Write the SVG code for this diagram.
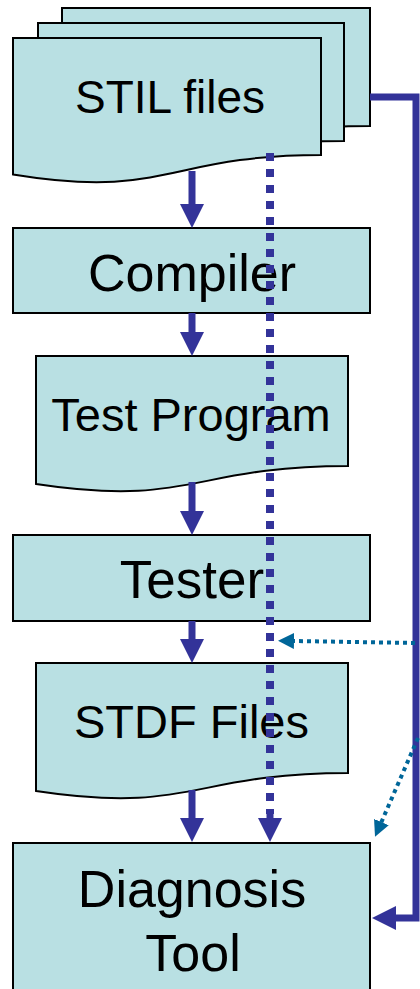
<svg xmlns="http://www.w3.org/2000/svg" width="420" height="989" viewBox="0 0 420 989">
  <style>
    .node { fill: #B9E0E3; stroke: #000000; stroke-width: 2; }
    .lbl { font-family: "Liberation Sans", Arial, sans-serif; fill: #000000; text-anchor: middle; }
    .flow { fill: none; stroke: #333399; stroke-width: 7; }
    .dots { fill: none; stroke: #333399; stroke-width: 8; stroke-dasharray: 8 8; }
    .teal { fill: none; stroke: #006699; stroke-width: 4; stroke-dasharray: 4 4; }
  </style>
  <defs>
    <marker id="ah" markerUnits="userSpaceOnUse" markerWidth="24" markerHeight="24" refX="1" refY="12" orient="auto" viewBox="0 0 24 24">
      <path d="M0,0 L24,12 L0,24 Z" fill="#333399"/>
    </marker>
    <marker id="ahT" markerUnits="userSpaceOnUse" markerWidth="16" markerHeight="16" refX="1" refY="8" orient="auto" viewBox="0 0 16 16">
      <path d="M0,0 L16,8 L0,16 Z" fill="#006699"/>
    </marker>
  </defs>

  <g id="stil-files">
    <path class="node" d="M62,8 H370 V126 C216,126 216,170.6 62,145.4 Z"/>
    <path class="node" d="M38,23 H344 V141 C191,141 191,185.6 38,160.4 Z"/>
    <path class="node" d="M13,38 H321 V155 C167,155 167,199.7 13,174.4 Z"/>
    <text class="lbl" x="170" y="113" font-size="46">STIL files</text>
  </g>

  <g id="compiler">
    <rect class="node" x="13" y="228" width="357" height="85"/>
    <text class="lbl" x="192" y="291" font-size="52">Compiler</text>
  </g>

  <g id="test-program">
    <path class="node" d="M36,356 H348 V466 C192,466 192,507.7 36,484 Z"/>
    <text class="lbl" x="191" y="431" font-size="47">Test Program</text>
  </g>

  <g id="tester">
    <rect class="node" x="13" y="535" width="357" height="86"/>
    <text class="lbl" x="192" y="598" font-size="53">Tester</text>
  </g>

  <g id="stdf-files">
    <path class="node" d="M36,663 H348 V773 C192,773 192,814.7 36,791 Z"/>
    <text class="lbl" x="191.5" y="738" font-size="47">STDF Files</text>
  </g>

  <g id="diagnosis-tool">
    <rect class="node" x="13" y="843" width="357" height="170"/>
    <text class="lbl" x="192" y="907" font-size="52">Diagnosis</text>
    <text class="lbl" x="193" y="971" font-size="52">Tool</text>
  </g>

  <g id="connectors">
    <path class="flow" d="M192,171 V205" marker-end="url(#ah)"/>
    <path class="flow" d="M192,313 V333" marker-end="url(#ah)"/>
    <path class="flow" d="M192,482 V512" marker-end="url(#ah)"/>
    <path class="flow" d="M192,621 V640" marker-end="url(#ah)"/>
    <path class="flow" d="M192,790 V819" marker-end="url(#ah)"/>
    <path class="dots" d="M270,153 V814"/>
    <path class="flow" d="M270,814 V819" marker-end="url(#ah)"/>
    <path class="flow" d="M370,97 H416 V918 H395" marker-end="url(#ah)"/>
    <path class="teal" d="M415,643 L293,641" marker-end="url(#ahT)"/>
    <path class="teal" d="M418,738 L381,823" marker-end="url(#ahT)"/>
  </g>
</svg>
